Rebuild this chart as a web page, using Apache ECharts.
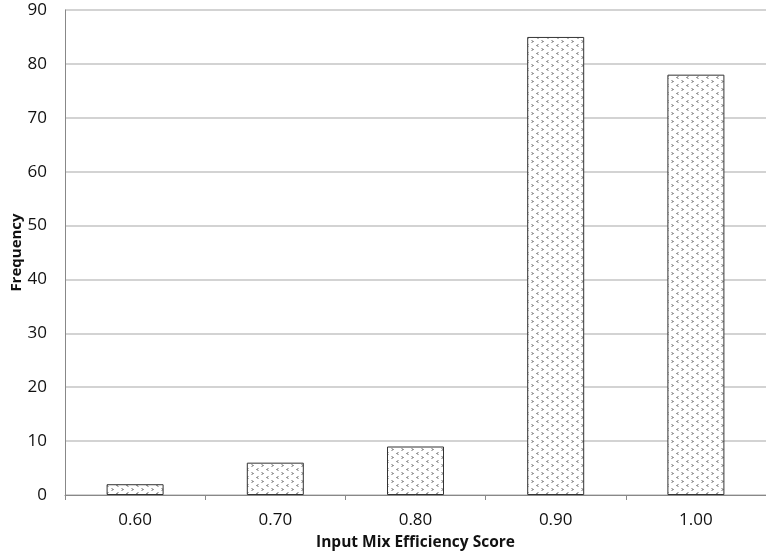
<!DOCTYPE html>
<html><head><meta charset="utf-8">
<script src="https://cdn.jsdelivr.net/npm/echarts@6/dist/echarts.min.js"></script>
<style>html,body{margin:0;padding:0;background:#fff}#c{width:766px;height:560px}</style>
</head><body><div id="c"></div>
<script>
const categories = ['0.60','0.70','0.80','0.90','1.00'];
const frequency = [2, 6, 9, 85, 78];
const yTicks = [0,10,20,30,40,50,60,70,80,90];

function makePattern(){
  const c = document.createElement('canvas');
  c.width = 10; c.height = 8;
  const g = c.getContext('2d');
  g.fillStyle = '#fff'; g.fillRect(0,0,10,8);
  g.strokeStyle = '#777'; g.lineWidth = 1;
  g.beginPath();
  g.moveTo(1.5,0.5); g.lineTo(3.5,1.5); g.lineTo(1.5,2.5);
  g.moveTo(8.5,4.5); g.lineTo(6.5,5.5); g.lineTo(8.5,6.5);
  g.stroke();
  return c;
}

const chart = echarts.init(document.getElementById('c'), null, {renderer:'canvas'});
const font = 'Open Sans';
chart.setOption({
  animation:false,
  backgroundColor:'#fff',
  grid:{left:65, right:0, top:10, bottom:65, containLabel:false, outerBoundsMode:'none'},
  xAxis:{
    type:'category', data:categories,
    name:'Input Mix Efficiency Score', nameLocation:'middle', nameGap:40, nameMoveOverlap:false,
    nameTextStyle:{fontFamily:font, fontSize:15.5, fontWeight:'bold', color:'#111'},
    axisLine:{lineStyle:{color:'#888', width:1}},
    axisTick:{show:true, length:5, lineStyle:{color:'#888'}, alignWithLabel:false},
    axisLabel:{fontFamily:font, fontSize:17, color:'#111', margin:17}
  },
  yAxis:{
    type:'value', min:yTicks[0], max:yTicks[yTicks.length-1], interval:10,
    name:'Frequency', nameLocation:'middle', nameGap:41, nameRotate:90, nameMoveOverlap:false,
    nameTextStyle:{fontFamily:font, fontSize:15, fontWeight:'bold', color:'#111'},
    axisLine:{show:true, lineStyle:{color:'#888'}},
    axisTick:{show:false},
    axisLabel:{fontFamily:font, fontSize:17, color:'#111', margin:18},
    splitLine:{lineStyle:{color:'#c4c4c4', width:1.5}}
  },
  series:[{
    type:'bar', data:frequency, barWidth:57,
    itemStyle:{color:{image:makePattern(), repeat:'repeat'}, borderColor:'#333', borderWidth:1}
  }]
});
</script></body></html>
